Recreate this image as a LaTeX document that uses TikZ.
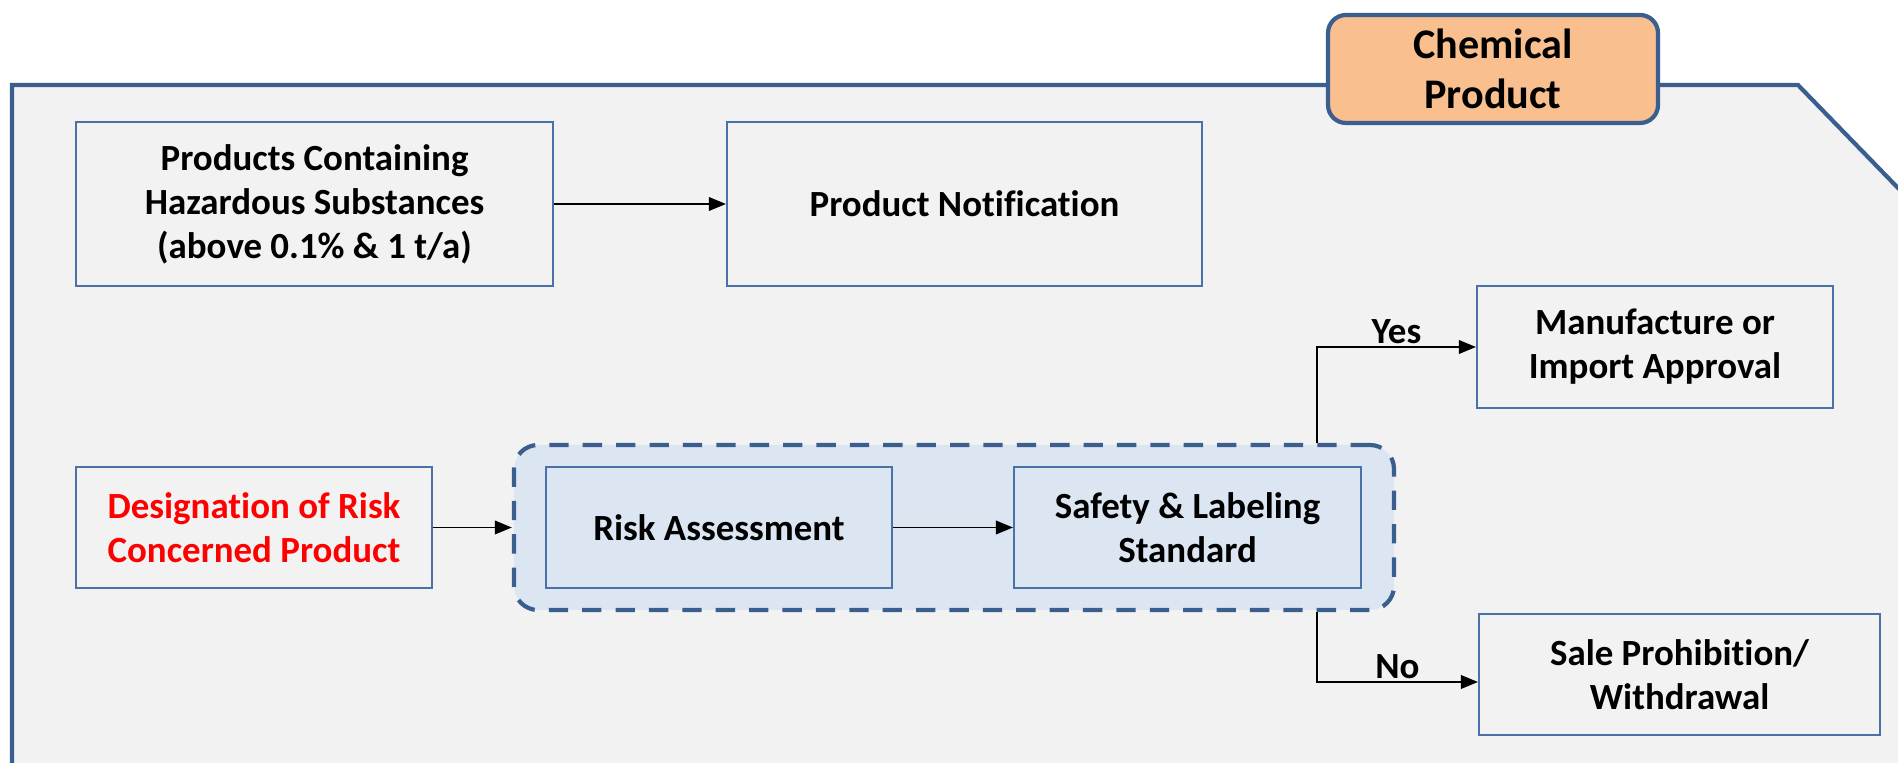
\documentclass[tikz,border=0pt]{standalone}
\usepackage{fontspec}
\setmainfont{Carlito}[Ligatures=NoCommon]
\usetikzlibrary{arrows.meta}

\definecolor{panelblue}{HTML}{3A5F8F}
\definecolor{boxblue}{HTML}{4A72A6}
\definecolor{panelgrey}{HTML}{F2F2F2}
\definecolor{groupfill}{HTML}{DCE6F2}
\definecolor{tabfill}{HTML}{F9BF8F}

\begin{document}
\begin{tikzpicture}[thick,
        font=\bfseries\fontsize{21}{25}\selectfont,
        box/.style={draw=boxblue, line width=1.2pt, fill=panelgrey, align=center, inner sep=0pt},
        arr/.style={-{Triangle[length=0.34cm,width=0.27cm]}, line width=1.1pt},
        lbl/.style={inner sep=1.5pt}]
        \useasboundingbox (0,0) rectangle (37.96,15.24);

        % panel
        \begin{scope}
            \clip (0,0) rectangle (37.96,15.24);
            \filldraw[fill=panelgrey, draw=panelblue, line width=2.4pt] (0.24,-1) -- (0.24,13.54) -- (35.96,13.54) -- (39.96,9.42) -- (39.96,-1) -- cycle;
        \end{scope}
        \node[box, draw=panelblue, line width=2.4pt, fill=tabfill, rounded corners=0.36cm, minimum width=6.6cm, minimum height=2.16cm, font=\bfseries\fontsize{24}{28.5}\selectfont] (tab) at (29.86,13.86){Chemical\\Product};

        % top row
        \node[box, minimum width=9.54cm, minimum height=3.28cm] (haz) at (6.29,11.16){Products Containing\\Hazardous Substances\\(above 0.1\% \& 1 t/a)};
        \node[box, minimum width=9.5cm, minimum height=3.28cm] (note) at (19.29,11.16){Product Notification};

        % risk group
        \node[draw=panelblue, line width=2.4pt, dash pattern=on 11pt off 8pt, fill=groupfill, rounded corners=0.48cm, minimum width=17.6cm, minimum height=3.3cm] (grp) at (19.08,4.69){};
        \node[box, text=red, minimum width=7.12cm, minimum height=2.42cm] (desig) at (5.08,4.69){Designation of Risk\\Concerned Product};
        \node[box, fill=groupfill, minimum width=6.92cm, minimum height=2.42cm] (risk) at (14.38,4.69){Risk Assessment};
        \node[box, fill=groupfill, minimum width=6.94cm, minimum height=2.42cm] (safe) at (23.75,4.69){Safety \& Labeling\\Standard};

        % outcomes
        \node[box, minimum width=7.12cm, minimum height=2.44cm] (man) at (33.1,8.3){Manufacture or\\Import Approval};
        \node[box, minimum width=8.02cm, minimum height=2.42cm] (sale) at (33.59,1.75){Sale Prohibition/\\Withdrawal};
        \coordinate (fork) at (26.34,0);

        % arrows
        \draw[arr] (haz) -- (note);
        \draw[arr] (desig) -- (grp);
        \draw[arr] (risk) -- (safe);
        \draw[arr] (grp.north -| fork) |- node[lbl, pos=0.75, above]{Yes} (man);
        \draw[arr] (grp.south -| fork) |- node[lbl, pos=0.75, above]{No} ([yshift=-0.15cm]sale.west);
    \end{tikzpicture}
\end{document}
